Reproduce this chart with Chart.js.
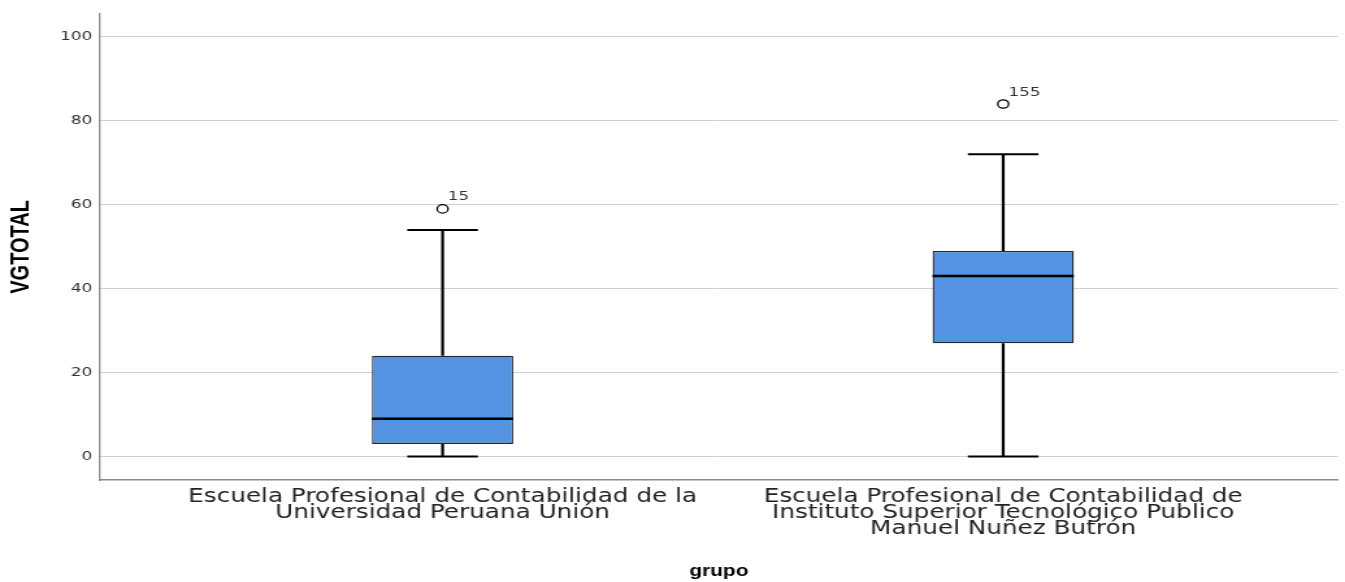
<!DOCTYPE html>
<html>
<head>
<meta charset="utf-8">
<script src="https://cdn.jsdelivr.net/npm/chart.js@4.4.1/dist/chart.umd.min.js"></script>
<style>
  html, body { margin: 0; padding: 0; background: #fff; }
  #chart { display: block; width: 1345px; height: 582px; }
</style>
</head>
<body>
<canvas id="chart" width="1035" height="582" style="width:1345px;height:582px"></canvas>
<script>
// 数据
const groupLabels = [
  ['Escuela Profesional de Contabilidad de la', 'Universidad Peruana Unión'],
  ['Escuela Profesional de Contabilidad de', 'Instituto Superior Tecnológico Publico', 'Manuel Nuñez Butrón']
];
const groupIndex = [0, 1];
const q1Values = [3, 27];
const medianValues = [9, 43];
const q3Values = [24, 49];
const whiskerLow = [0, 0];
const whiskerHigh = [54, 72];
const outlierValues = [59, 84];
const outlierIds = ['15', '155'];
const yTicks = [0, 20, 40, 60, 80, 100];

// 须线、中位线和异常值编号
const boxExtras = {
  id: 'boxExtras',
  afterDatasetsDraw(chart) {
    const ctx = chart.ctx;
    const xs = chart.scales.x;
    const ys = chart.scales.y;
    const meta = chart.getDatasetMeta(0);
    ctx.save();
    groupIndex.forEach((g, i) => {
      const bar = meta.data[i];
      const cx = xs.getPixelForValue(g);
      const half = bar.width / 2;
      const capHalf = bar.width / 4;
      const yMin = ys.getPixelForValue(whiskerLow[i]);
      const yMax = ys.getPixelForValue(whiskerHigh[i]);
      const yQ1 = ys.getPixelForValue(q1Values[i]);
      const yQ3 = ys.getPixelForValue(q3Values[i]);
      const yMed = ys.getPixelForValue(medianValues[i]);
      ctx.strokeStyle = '#000';
      // 须线
      ctx.lineWidth = 2.2;
      ctx.beginPath();
      ctx.moveTo(cx, yQ3); ctx.lineTo(cx, yMax);
      ctx.moveTo(cx, yQ1); ctx.lineTo(cx, yMin);
      ctx.stroke();
      // 端线
      ctx.lineWidth = 2;
      ctx.beginPath();
      ctx.moveTo(cx - capHalf, yMax); ctx.lineTo(cx + capHalf, yMax);
      ctx.moveTo(cx - capHalf, yMin); ctx.lineTo(cx + capHalf, yMin);
      ctx.stroke();
      // 中位线
      ctx.lineWidth = 2.5;
      ctx.beginPath();
      ctx.moveTo(cx - half, yMed); ctx.lineTo(cx + half, yMed);
      ctx.stroke();
    });
    // 异常值编号
    const pts = chart.getDatasetMeta(1).data;
    ctx.fillStyle = '#333';
    ctx.font = '13px "DejaVu Sans", sans-serif';
    ctx.textAlign = 'left';
    ctx.textBaseline = 'alphabetic';
    pts.forEach((p, i) => {
      ctx.fillText(outlierIds[i], p.x + 4, p.y - 8.5);
    });
    ctx.restore();
  }
};

const ctx = document.getElementById('chart').getContext('2d');
const chart = new Chart(ctx, {
  type: 'bar',
  data: {
    datasets: [{
      type: 'bar',
      data: groupIndex.map((g, i) => ({ x: g, y: [q1Values[i], q3Values[i]] })),
      backgroundColor: '#5493e2',
      borderColor: '#1c2838',
      borderWidth: 1.3,
      borderSkipped: false,
      barPercentage: 0.252,
      categoryPercentage: 1
    }, {
      type: 'scatter',
      data: groupIndex.map((g, i) => ({ x: g, y: outlierValues[i] })),
      pointStyle: 'circle',
      pointRadius: 4.2,
      pointBackgroundColor: '#fff',
      pointBorderColor: '#000',
      pointBorderWidth: 1.3
    }]
  },
  options: {
    responsive: false,
    animation: false,
    layout: { padding: { top: 13, left: 0, right: 3, bottom: 0 } },
    plugins: {
      legend: { display: false },
      tooltip: { enabled: false }
    },
    scales: {
      x: {
        type: 'linear',
        min: -0.611,
        max: 1.597,
        offset: false,
        afterBuildTicks: function(scale) {
          scale.ticks = groupIndex.map(v => ({ value: v }));
        },
        afterFit: function(scale) { scale.height = 102; },
        grid: { display: false, drawTicks: false },
        border: { display: true, color: '#8a8a8a', width: 1.5 },
        ticks: {
          autoSkip: false,
          maxRotation: 0,
          minRotation: 0,
          padding: 9,
          color: '#222',
          font: { family: '"DejaVu Sans", sans-serif', size: 19, lineHeight: '16px' },
          callback: function(value) { return groupLabels[value]; }
        },
        title: {
          display: true,
          text: 'grupo',
          color: '#000',
          padding: { top: 0, bottom: 1 },
          font: { family: '"Liberation Sans", Arial, sans-serif', size: 16, weight: 'bold' }
        }
      },
      y: {
        min: -5.6,
        max: 105.5,
        afterBuildTicks: function(scale) {
          scale.ticks = yTicks.map(v => ({ value: v }));
        },
        afterFit: function(scale) { scale.width = 77; },
        grid: { color: '#d0d0d0', lineWidth: 1, drawTicks: false },
        border: { display: true, color: '#8a8a8a', width: 1.3 },
        ticks: {
          padding: 6,
          color: '#333',
          font: { family: '"DejaVu Sans", sans-serif', size: 13 }
        },
        title: {
          display: true,
          text: 'VGTOTAL',
          color: '#000',
          padding: { top: 4, bottom: 0 },
          font: { family: '"Liberation Sans Narrow", "Liberation Sans", Arial, sans-serif', size: 20, weight: 'bold' }
        }
      }
    }
  },
  plugins: [boxExtras]
});
</script>
</body>
</html>
